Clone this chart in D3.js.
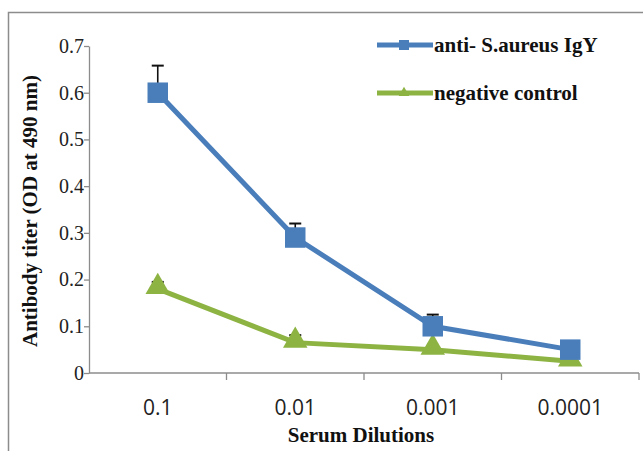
<!DOCTYPE html>
<html>
<head>
<meta charset="utf-8">
<script src="https://cdn.jsdelivr.net/npm/d3@7"></script>
<style>
  body { margin: 0; background: #fff; }
  svg { display: block; }
  .serif { font-family: "Liberation Serif", "Times New Roman", "DejaVu Serif", serif; }
  .sans { font-family: "Open Sans", "Liberation Sans", sans-serif; }
</style>
</head>
<body>
<div id="chart"></div>
<script>
// chart data
const dilutions = ["0.1", "0.01", "0.001", "0.0001"];
const igyValues = [0.60, 0.29, 0.10, 0.05];
const igyErrors = [0.058, 0.03, 0.025, 0];
const controlValues = [0.18, 0.065, 0.05, 0.025];
const controlErrors = [0.015, 0.016, 0, 0];
const yTicks = [0, 0.1, 0.2, 0.3, 0.4, 0.5, 0.6, 0.7];
const seriesNames = ["anti- S.aureus IgY", "negative control"];

const W = 643, H = 451;
const margin = { top: 46, right: 4, bottom: 78, left: 89 };
const width = W - margin.left - margin.right;
const height = H - margin.top - margin.bottom;

const svg = d3.select("#chart").append("svg")
    .attr("width", W)
    .attr("height", H);

// outer frame (runs off the right and bottom)
svg.append("rect")
    .attr("x", 8.5)
    .attr("y", 12.5)
    .attr("width", W + 10)
    .attr("height", H + 10)
    .attr("fill", "none")
    .attr("stroke", "#8c8c8c")
    .attr("stroke-width", 1.5);

const g = svg.append("g")
    .attr("transform", `translate(${margin.left},${margin.top})`);

const x = d3.scaleBand()
    .domain(dilutions)
    .range([0, 550]);

const y = d3.scaleLinear()
    .domain([0, 0.7])
    .range([height, 0]);

// y axis
const yAxis = g.append("g")
    .call(d3.axisLeft(y).tickValues(yTicks).tickSize(5).tickSizeOuter(0)
        .tickFormat(d => d === 0 ? "0" : d3.format(".1f")(d)))
    .attr("font-family", null)
    .attr("font-size", null);
yAxis.select(".domain").attr("stroke", "#8c8c8c").attr("stroke-width", 1.3);
yAxis.selectAll(".tick line").attr("stroke", "#8c8c8c").attr("stroke-width", 1.3);
yAxis.selectAll("text")
    .attr("class", "serif")
    .attr("x", -5)
    .attr("fill", "#222")
    .style("font-size", "20px");

// x axis with ticks on band boundaries
const xAxisG = g.append("g")
    .attr("transform", `translate(0,${height})`);
xAxisG.append("line")
    .attr("x1", 0).attr("x2", 550)
    .attr("stroke", "#8c8c8c").attr("stroke-width", 1.3);
xAxisG.selectAll(".xtick")
    .data(dilutions)
    .enter().append("line")
    .attr("class", "xtick")
    .attr("x1", d => x(d) + x.bandwidth())
    .attr("x2", d => x(d) + x.bandwidth())
    .attr("y1", 0).attr("y2", 7)
    .attr("stroke", "#8c8c8c").attr("stroke-width", 1.3);
xAxisG.selectAll(".xlabel")
    .data(dilutions)
    .enter().append("text")
    .attr("class", "sans")
    .attr("x", d => x(d) + x.bandwidth() / 2)
    .attr("y", 42)
    .attr("text-anchor", "middle")
    .attr("fill", "#222")
    .style("font-size", "21px")
    .text(d => d);

const cx = d => x(d) + x.bandwidth() / 2;

const series = [
  { name: seriesNames[0], values: igyValues, errors: igyErrors, color: "#4a7ebb", shape: "square" },
  { name: seriesNames[1], values: controlValues, errors: controlErrors, color: "#8db343", shape: "triangle" }
];

const line = d3.line()
    .x(d => cx(d.cat))
    .y(d => y(d.v));

series.slice().reverse().forEach(s => {
  const pts = dilutions.map((c, i) => ({ cat: c, v: s.values[i], e: s.errors[i] }));

  g.append("path")
      .datum(pts)
      .attr("fill", "none")
      .attr("stroke", s.color)
      .attr("stroke-width", 5)
      .attr("d", line);

  // error bars (upper only)
  const eb = g.selectAll(null)
      .data(pts.filter(p => p.e > 0))
      .enter().append("g");
  eb.append("line")
      .attr("x1", p => cx(p.cat)).attr("x2", p => cx(p.cat))
      .attr("y1", p => y(p.v)).attr("y2", p => y(p.v + p.e))
      .attr("stroke", "#111").attr("stroke-width", 1.6);
  eb.append("line")
      .attr("x1", p => cx(p.cat) - 6).attr("x2", p => cx(p.cat) + 6)
      .attr("y1", p => y(p.v + p.e)).attr("y2", p => y(p.v + p.e))
      .attr("stroke", "#111").attr("stroke-width", 2);

  const sym = d3.symbol()
      .type(s.shape === "square" ? d3.symbolSquare : d3.symbolTriangle)
      .size(s.shape === "square" ? 420 : 260);
  g.selectAll(null)
      .data(pts)
      .enter().append("path")
      .attr("transform", p => `translate(${cx(p.cat)},${y(p.v) + (s.shape === "triangle" ? -2 : 0)})`)
      .attr("d", sym)
      .attr("fill", s.color);
});

// legend
const legend = svg.append("g")
    .selectAll("g")
    .data(series)
    .enter().append("g")
    .attr("transform", (d, i) => `translate(377,${45 + i * 48})`);
legend.append("line")
    .attr("x1", 0).attr("x2", 56)
    .attr("stroke", d => d.color)
    .attr("stroke-width", 5);
legend.append("path")
    .attr("transform", "translate(27,0)")
    .attr("d", d => d3.symbol()
        .type(d.shape === "square" ? d3.symbolSquare : d3.symbolTriangle)
        .size(d.shape === "square" ? 100 : 50)())
    .attr("fill", d => d.color);
legend.append("text")
    .attr("class", "serif")
    .attr("x", 57)
    .attr("y", 0)
    .attr("dy", "0.35em")
    .attr("fill", "#111")
    .style("font-size", "21px")
    .style("font-weight", "bold")
    .text(d => d.name);

// axis titles
svg.append("text")
    .attr("class", "serif")
    .attr("transform", "translate(37,211) rotate(-90)")
    .attr("text-anchor", "middle")
    .attr("fill", "#111")
    .style("font-size", "21px")
    .style("font-weight", "bold")
    .text("Antibody titer (OD at 490 nm)");

svg.append("text")
    .attr("class", "serif")
    .attr("x", 361)
    .attr("y", 442)
    .attr("text-anchor", "middle")
    .attr("fill", "#111")
    .style("font-size", "21px")
    .style("font-weight", "bold")
    .text("Serum Dilutions");
</script>
</body>
</html>
